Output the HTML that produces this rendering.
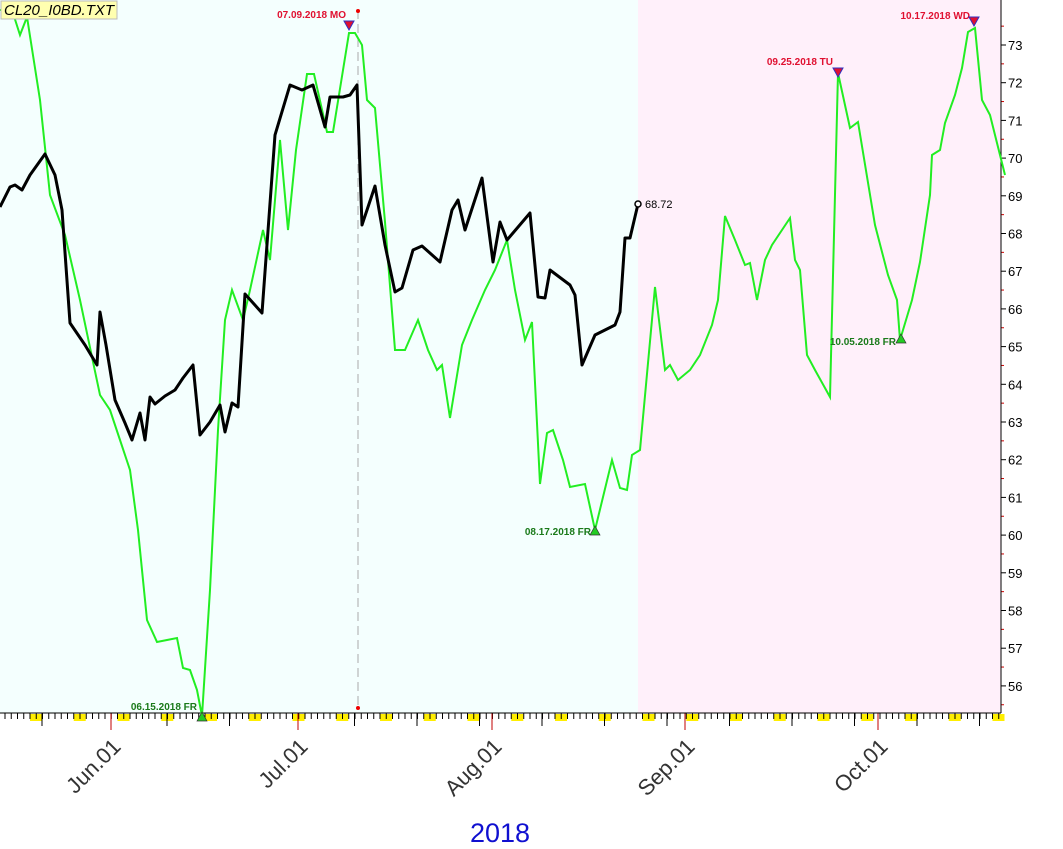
<!DOCTYPE html>
<html><head><style>
body{margin:0;background:#fff;}
svg{display:block;font-family:"Liberation Sans",sans-serif;}
</style></head><body>
<svg id="s" width="1063" height="849" xmlns="http://www.w3.org/2000/svg">
<rect x="0" y="0" width="638" height="713" fill="#f4fffe"/>
<rect x="638" y="0" width="363" height="713" fill="#fff0fa"/>
<g id="ticks"></g>
<line x1="1001" y1="0" x2="1001" y2="713" stroke="#000"/>
<line x1="0" y1="713" x2="1001" y2="713" stroke="#000"/>
<line x1="358" y1="10" x2="358" y2="708" stroke="#aaa" stroke-dasharray="9,5"/>
<circle cx="358" cy="11" r="2" fill="#e00"/><circle cx="358" cy="708" r="2" fill="#e00"/>
<polyline fill="none" stroke="#22ee22" stroke-width="2" points="0,10 12,10 20,35 27,17 40,100 50,195 65,235 80,300 100,395 110,410 120,440 130,470 138,530 147,620 157,642 167,640 177,638 183,668 190,670 197,690 202,716 210,590 218,430 225,320 232,290 243,320 250,290 263,230 270,260 280,140 288,230 296,150 307,74 314,74 327,132 333,132 349,33 355,33 362,45 367,100 375,108 385,222 395,350 405,350 418,320 428,350 437,370 442,365 450,418 462,345 472,320 485,290 495,270 507,240 515,290 525,340 532,322 540,484 547,433 553,430 563,460 570,487 585,484 595,530 612,460 620,488 627,490 632,455 640,450 655,287 665,370 670,365 678,380 690,370 700,355 712,325 718,300 725,216 735,240 745,265 750,263 757,300 765,260 772,245 790,218 795,260 800,270 807,355 815,370 830,397 838,73 850,128 858,122 875,225 888,275 897,300 900,340 912,300 920,262 930,195 932,155 940,150 945,123 955,95 962,68 968,32 975,28 982,100 990,115 1000,155 1005,175"/>
<polyline fill="none" stroke="#000" stroke-width="3" stroke-linejoin="round" points="0,207 10,187 15,185 22,190 30,175 45,154 55,175 62,210 70,323 85,345 97,365 100,312 106,345 115,400 125,423 132,440 140,413 145,440 150,397 155,404 165,396 175,390 183,378 193,365 200,435 210,422 220,405 225,432 232,403 238,407 245,294 262,313 275,135 290,85 302,90 313,85 325,127 330,97 343,97 350,95 357,85 362,225 375,186 385,245 395,292 402,288 413,250 422,246 440,262 452,210 458,200 465,230 482,178 493,262 500,222 507,240 530,213 538,297 545,298 550,270 570,285 575,295 582,365 595,335 615,325 620,312 625,238 630,238 638,204"/>
<circle cx="638" cy="204" r="3" fill="#fff" stroke="#000" stroke-width="1.5"/>
<text x="645" y="208" font-size="11" fill="#000">68.72</text>
<g font-size="10" font-weight="bold">
<text x="346" y="18" text-anchor="end" fill="#e01030">07.09.2018 MO</text>
<text x="833" y="65" text-anchor="end" fill="#e01030">09.25.2018 TU</text>
<text x="970" y="19" text-anchor="end" fill="#e01030">10.17.2018 WD</text>
<text x="197" y="710" text-anchor="end" fill="#1a7a1a">06.15.2018 FR</text>
<text x="591" y="535" text-anchor="end" fill="#1a7a1a">08.17.2018 FR</text>
<text x="896" y="345" text-anchor="end" fill="#1a7a1a">10.05.2018 FR</text>
</g>
<g fill="#e01030" stroke="#3030c0" stroke-width="1">
<polygon points="344,21 354,21 349,30"/><polygon points="833,68 843,68 838,77"/><polygon points="969,17 979,17 974,26"/>
</g>
<g fill="#22cc22" stroke="#333" stroke-width="0.7">
<polygon points="197,721 207,721 202,712"/><polygon points="590,535 600,535 595,526"/><polygon points="896,343 906,343 901,334"/>
</g>
<rect x="1" y="1" width="116" height="18" fill="#ffffb0" stroke="#bbb"/>
<text x="4" y="15" font-size="15" font-style="italic" fill="#000">CL20_I0BD.TXT</text>
<g id="ylab" font-size="13" fill="#000"></g>
<g font-size="22" fill="#333">
<text transform="translate(122,748) rotate(-45)" text-anchor="end">Jun.01</text>
<text transform="translate(309,748) rotate(-45)" text-anchor="end">Jul.01</text>
<text transform="translate(503,748) rotate(-45)" text-anchor="end">Aug.01</text>
<text transform="translate(696,748) rotate(-45)" text-anchor="end">Sep.01</text>
<text transform="translate(889,748) rotate(-45)" text-anchor="end">Oct.01</text>
</g>
<text x="500" y="842" font-size="27" fill="#1010d0" text-anchor="middle">2018</text>
</svg>
<script>
var ns="http://www.w3.org/2000/svg",t=document.getElementById("ticks"),yl=document.getElementById("ylab");
function el(n,a,p){var e=document.createElementNS(ns,n);for(var k in a)e.setAttribute(k,a[k]);(p||t).appendChild(e);return e;}
for(var x=30;x<1000;x+=43.75)el("rect",{x:x,y:714,width:12,height:7,fill:"#ffee00"});
for(var x=5;x<1000;x+=6.25)el("line",{x1:x,y1:713,x2:x,y2:719,stroke:"#000"});
for(var x=42;x<1000;x+=62.5){var near=[111,298,492,685,878].some(function(m){return Math.abs(m-x)<10});if(!near)el("line",{x1:x,y1:713,x2:x,y2:726,stroke:"#000"});}
[111,298,492,685,878].forEach(function(x){el("line",{x1:x,y1:713,x2:x,y2:730,stroke:"#c00000"});});
for(var v=56;v<=73;v++){var y=45+(73-v)*37.7;el("line",{x1:1001,y1:y,x2:1006,y2:y,stroke:"#000"});el("line",{x1:1001,y1:y-18.85,x2:1004,y2:y-18.85,stroke:"#c00"});var tx=el("text",{x:1008,y:y+5},yl);tx.textContent=v;}
el("line",{x1:1001,y1:45+17.5*37.7,x2:1004,y2:45+17.5*37.7,stroke:"#c00"});
</script>
</body></html>
